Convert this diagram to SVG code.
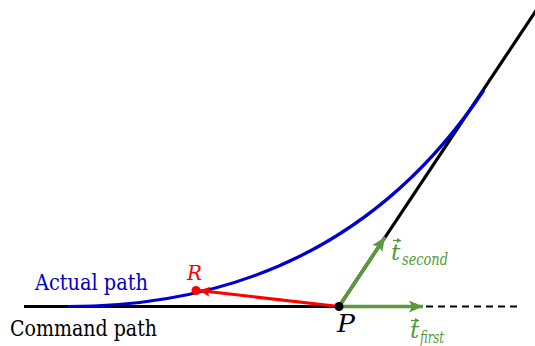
<svg xmlns="http://www.w3.org/2000/svg" width="535" height="346" viewBox="0 0 535 346">
<defs>
<style>
text{font-family:'DejaVu Serif','Liberation Serif',serif;}
.it{font-style:italic;}
.grn{fill:#4f9a35;}
.garrow{stroke:#5a9a3c;stroke-width:3.5;fill:none;}
</style>
<marker id="gHead" markerUnits="userSpaceOnUse" markerWidth="16" markerHeight="14" refX="14" refY="6" orient="auto">
<path d="M0,0 L14,6 L0,12 L3,6 Z" fill="#5a9a3c"/>
</marker>
<marker id="rHead" markerUnits="userSpaceOnUse" markerWidth="14" markerHeight="12" refX="11" refY="5" orient="auto">
<path d="M0,0 L11,5 L0,10 L2.5,5 Z" fill="#ff0000"/>
</marker>
<marker id="sHead" markerUnits="userSpaceOnUse" markerWidth="6" markerHeight="6" refX="4" refY="2.5" orient="auto">
<path d="M0,0 L4,2.5 L0,5 Z" fill="#4f9a35"/>
</marker>
</defs>
<rect width="535" height="346" fill="#ffffff"/>

<g id="command-path">
<line x1="24" y1="306.5" x2="339" y2="306.5" stroke="#000" stroke-width="3.2"/>
<line x1="339" y1="306.5" x2="543" y2="0" stroke="#000" stroke-width="3.2"/>
<line x1="426" y1="306.5" x2="522" y2="306.5" stroke="#000" stroke-width="2" stroke-dasharray="7,5"/>
<text x="10" y="336" font-size="22" fill="#000" textLength="147" lengthAdjust="spacingAndGlyphs">Command path</text>
</g>

<g id="actual-path">
<path d="M68,306.5 Q339,306.5 484,90" stroke="#0000cc" stroke-width="3.2" fill="none"/>
<text x="35" y="290" font-size="22" fill="#0000cc" textLength="113" lengthAdjust="spacingAndGlyphs">Actual path</text>
</g>

<g id="connectors">
<line x1="339" y1="306.5" x2="199" y2="290.5" stroke="#ff0000" stroke-width="3.2" marker-end="url(#rHead)"/>
<line class="garrow" x1="339" y1="306.5" x2="423" y2="306.5" marker-end="url(#gHead)"/>
<line class="garrow" x1="339" y1="306.5" x2="385" y2="237" marker-end="url(#gHead)"/>
</g>

<g id="point-R">
<circle cx="196" cy="290.5" r="4.5" fill="#ff0000"/>
<text class="it" x="187" y="280" font-size="20" fill="#ff0000" textLength="15" lengthAdjust="spacingAndGlyphs">R</text>
</g>

<g id="point-P">
<circle cx="339" cy="306.5" r="4.5" fill="#000"/>
<text class="it" x="337" y="332" font-size="24" fill="#000" textLength="18" lengthAdjust="spacingAndGlyphs">P</text>
</g>

<g id="t-second">
<line x1="393" y1="240.5" x2="401" y2="240.5" stroke="#4f9a35" stroke-width="1.3" marker-end="url(#sHead)"/>
<text class="it grn" x="391" y="260" font-size="23">t</text>
<text class="it grn" x="402" y="265" font-size="16" textLength="46" lengthAdjust="spacingAndGlyphs">second</text>
</g>

<g id="t-first">
<line x1="411" y1="320.5" x2="419" y2="320.5" stroke="#4f9a35" stroke-width="1.3" marker-end="url(#sHead)"/>
<text class="it grn" x="410" y="338" font-size="23">t</text>
<text class="it grn" x="420" y="343" font-size="16" textLength="24" lengthAdjust="spacingAndGlyphs">first</text>
</g>
</svg>
